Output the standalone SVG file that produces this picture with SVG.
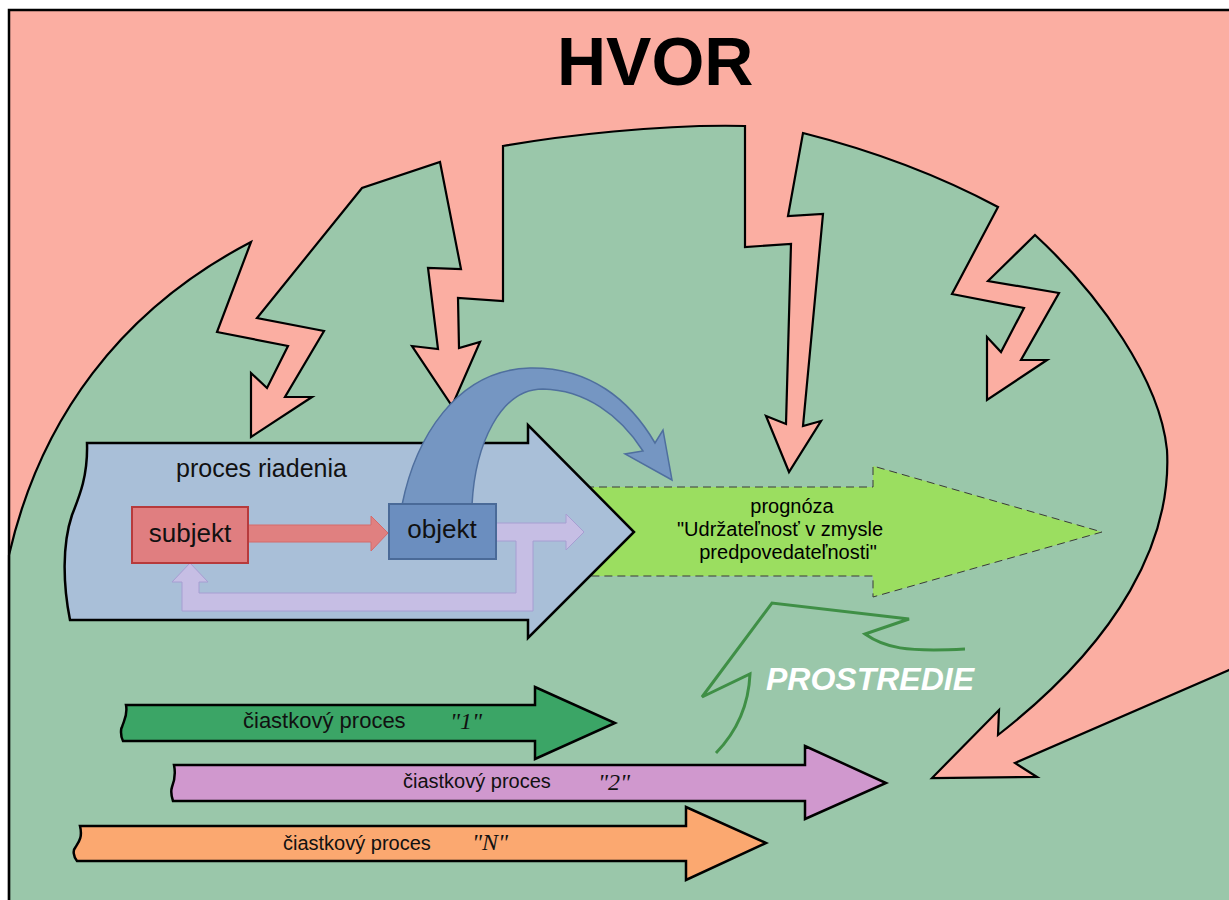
<svg xmlns="http://www.w3.org/2000/svg" width="1229" height="900" viewBox="0 0 1229 900">
<style>
.sans{font-family:"Liberation Sans",Arial,sans-serif}
.serif{font-family:"Liberation Serif","Times New Roman",serif;font-style:italic}
.outl{stroke:#000;stroke-width:2.2;stroke-linejoin:miter}
.sub{stroke:#000;stroke-width:2.5;stroke-linejoin:miter}
</style>
<rect x="0" y="0" width="1229" height="900" fill="#ffffff"/>
<g id="hvor">
<rect x="9" y="10" width="1230" height="900" fill="#FBAEA2"/>
<text x="557" y="85" class="sans" font-size="68" font-weight="bold" fill="#000">HVOR</text>
</g>
<g id="prostredie">
<path class="outl" fill="#9AC7AA" d="M9,555 C40,420 120,310 251,242 L217,332 L288,346 L267,388 L251,373 L251,437 L312,397 L285,397 L324,331 L257,318 L362,188 L440,162 L461,269 L428,268 L438,349 L412,346 L452,406 L480,342 L459,348 L458,298 L503,301 L503,146 C560,136 660,124 745,126 L745,247 L791,244 L786,424 L766,416 L789,472 L821,421 L803,426 L823,214 L788,216 L803,133 Q910,160 998,207 L952,294 L1024,308 L1001,352 L987,337 L987,400 L1047,360 L1021,360 L1059,293 L988,281 L1035,235 C1100,295 1160,380 1167,450 C1172,540 1120,640 998,735 L999,710 L932,778 L1037,777 L1015,763 L1229,670 L1250,665 L1250,915 L9,915 Z"/>
<path fill="none" stroke="#3F8F46" stroke-width="3" stroke-linejoin="miter" d="M716,753 Q748,720 750,674 L702,697 L772,603 L909,619 L865,634 C885,648 905,652 965,649"/>
<text x="766" y="690" class="sans" font-size="32" font-weight="bold" font-style="italic" fill="#ffffff">PROSTREDIE</text>
</g>
<g id="prognoza">
<path fill="#9BDE60" stroke="#3a3a3a" stroke-width="1" stroke-dasharray="8,5" d="M560,487 L873,487 L873,466 L1102,532 L873,597 L873,576 L560,576 Z"/>
<text class="sans" font-size="20" fill="#000" text-anchor="middle"><tspan x="792" y="513">prognóza</tspan><tspan x="780" y="536">"Udržateľnosť v zmysle</tspan><tspan x="788" y="559">predpovedateľnosti"</tspan></text>
</g>
<g id="proces-riadenia">
<path class="sub" fill="#A9BFD8" d="M87,443 L528,443 L528,425 L634,532 L528,638 L528,620 L70,620 C63,585 62,545 72,515 C80,495 88,475 87,443 Z"/>
<text x="176" y="477" class="sans" font-size="25" fill="#111">proces riadenia</text>
</g>
<g id="connectors">
<path fill="#7596C2" stroke="#4F6F9E" stroke-width="1.5" d="M402,505 C415,440 455,370 530,368 C590,367 630,400 655,443 L663,430 L672,480 L625,454 L643,451 C620,415 585,390 543,389 C500,389 475,445 472,505 Z"/>
<path fill="#E08080" stroke="#D46A6A" stroke-width="1" d="M248,525 L371,525 L371,516 L388,533 L371,551 L371,542 L248,542 Z"/>
<path fill="#C6BEE4" stroke="#A69ED2" stroke-width="1" d="M496,523 L566,523 L566,514 L584,532 L566,550 L566,541 L533,541 L533,611 L182,611 L182,582 L172,582 L190,563 L208,582 L199,582 L199,593 L516,593 L516,541 L496,541 Z"/>
</g>
<g id="subjekt">
<rect x="132" y="507" width="116" height="56" fill="#E07E80" stroke="#B73A3C" stroke-width="2"/>
<text x="190" y="542" class="sans" font-size="26" fill="#111" text-anchor="middle">subjekt</text>
</g>
<g id="objekt">
<rect x="389" y="504" width="107" height="55" fill="#6B8EBF" stroke="#4A6A98" stroke-width="2"/>
<text x="442" y="538" class="sans" font-size="26" fill="#111" text-anchor="middle">objekt</text>
</g>
<g id="proces-1">
<path class="sub" fill="#3BA566" d="M126,705 L535,705 L535,687 L615,723 L535,759 L535,741 L123,741 C120,735 121,728 122,727 C124,720 128,715 126,705 Z"/>
<text x="243" y="728" class="sans" font-size="22" fill="#111">čiastkový proces</text>
<text x="450" y="729" class="serif" font-size="24" fill="#111">"1"</text>
</g>
<g id="proces-2">
<path class="sub" fill="#D098CE" d="M174,765 L805,765 L805,746 L886,783 L805,819 L805,801 L173,801 C171,795 171,790 172,787 C174,782 176,775 174,765 Z"/>
<text x="403" y="788" class="sans" font-size="20" fill="#111">čiastkový proces</text>
<text x="598" y="790" class="serif" font-size="24" fill="#111">"2"</text>
</g>
<g id="proces-n">
<path class="sub" fill="#FBA870" d="M80,826 L686,826 L686,807 L766,843 L686,880 L686,861 L77,861 C73,856 73,850 75,848 C78,843 83,838 80,826 Z"/>
<text x="283" y="850" class="sans" font-size="20" fill="#111">čiastkový proces</text>
<text x="472" y="850" class="serif" font-size="24" fill="#111">"N"</text>
</g>
<g id="frame">
<path d="M9,905 L9,10 L1235,10" fill="none" stroke="#000" stroke-width="2.5"/>
</g>
</svg>
